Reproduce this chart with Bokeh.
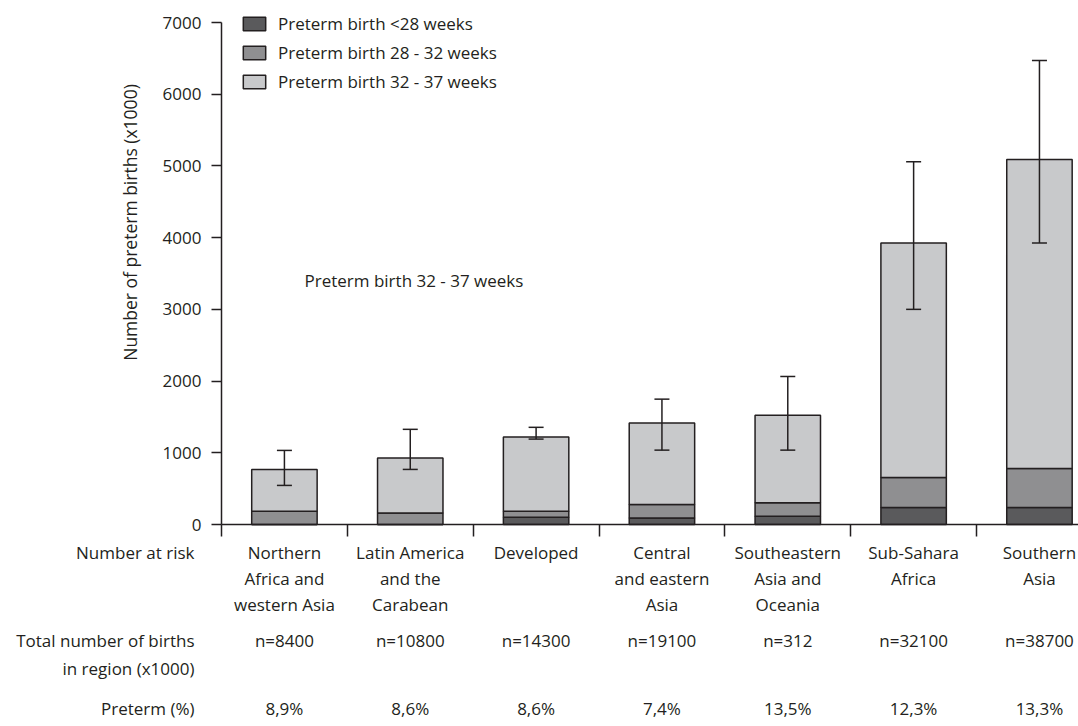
import math
from bokeh.plotting import figure
from bokeh.models import ColumnDataSource, Range1d, FixedTicker, Whisker, TeeHead
from bokeh.core.properties import value
from bokeh.embed import file_html
from bokeh.resources import INLINE

# ---------------- data ----------------
regions = ["Northern\nAfrica and\nwestern Asia", "Latin America\nand the\nCarabean", "Developed",
           "Central\nand eastern\nAsia", "Southeastern\nAsia and\nOceania", "Sub-Sahara\nAfrica",
           "Southern\nAsia"]
pt_lt28 = [0, 0, 100, 92, 116, 237, 237]
pt_28_32 = [186, 162, 86, 187, 186, 419, 545]
pt_32_37 = [582, 764, 1033, 1138, 1223, 3268, 4306]
err_low = [545, 768, 1191, 1037, 1037, 3000, 3924]
err_high = [1033, 1327, 1355, 1748, 2064, 5060, 6470]
total_births = ["n=8400", "n=10800", "n=14300", "n=19100", "n=312", "n=32100", "n=38700"]
preterm_pct = ["8,9%", "8,6%", "8,6%", "7,4%", "13,5%", "12,3%", "13,3%"]
series_names = ["Preterm birth <28 weeks", "Preterm birth 28 - 32 weeks", "Preterm birth 32 - 37 weeks"]
row_labels = ["Number at risk", "Total number of births", "in region (x1000)", "Preterm (%)"]
y_ticks = [0, 1000, 2000, 3000, 4000, 5000, 6000, 7000]

# ---------------- layout (screen geometry) ----------------
FONT = "Open Sans"
FS = "17px"
INK = "#231f20"
colors = ["#5a5a5c", "#8f8f91", "#c8c9cb"]
W, H = 1078, 726
AXIS_X = 221          # screen x of the y axis (category boundary -0.5)
Y0_PX, Y7000_PX = 524, 22
px_y = (Y0_PX - Y7000_PX) / 7000.0
y_end = 7000 + Y7000_PX / px_y
y_start = -(H - Y0_PX) / px_y
u = 125.84            # px per category
x_start = -0.5 - AXIS_X / u
x_end = x_start + W / u

def dx(px):   # screen x -> data x
    return x_start + px / u

def dy(py):   # screen y -> data y
    return (Y0_PX - py) / px_y

n = len(regions)
xs = list(range(n))
src = ColumnDataSource(dict(x=xs, lt28=pt_lt28, mid=pt_28_32, late=pt_32_37,
                            lower=err_low, upper=err_high))

p = figure(width=W, height=H, output_backend="svg", toolbar_location=None,
           x_range=Range1d(x_start, x_end), y_range=Range1d(y_start, y_end),
           min_border=0, tools="")
p.outline_line_color = None
p.grid.visible = False

p.vbar_stack(["lt28", "mid", "late"], x="x", width=0.52, color=colors,
             line_color=INK, line_width=1.5, source=src, legend_label=series_names)

p.add_layout(Whisker(base="x", lower="lower", upper="upper", source=src,
                     line_color=INK, line_width=1.5, level="annotation",
                     upper_head=TeeHead(size=15, line_color=INK, line_width=1.5),
                     lower_head=TeeHead(size=15, line_color=INK, line_width=1.5)))

# x axis at value 0 with boundary ticks pointing down, no labels
xa = p.xaxis[0]
xa.fixed_location = 0
xa.bounds = (-0.5, x_end)
xa.ticker = FixedTicker(ticks=[i - 0.5 for i in range(n)])
xa.major_label_text_color = None
xa.major_label_text_font_size = "1px"
xa.major_tick_in = 0
xa.major_tick_out = 12
xa.minor_tick_line_color = None
xa.axis_line_color = INK
xa.axis_line_width = 1.5
xa.major_tick_line_color = INK
xa.major_tick_line_width = 1.5

# y axis at the first category boundary
ya = p.yaxis[0]
ya.fixed_location = -0.5
ya.bounds = (0, 7000)
ya.ticker = FixedTicker(ticks=y_ticks)
ya.major_tick_out = 10
ya.major_tick_in = 0
ya.minor_tick_line_color = None
ya.axis_line_color = INK
ya.axis_line_width = 1.5
ya.major_tick_line_color = INK
ya.major_tick_line_width = 1.5
ya.major_label_text_font = FONT
ya.major_label_text_font_size = FS
ya.major_label_text_color = INK
ya.major_label_standoff = 10

txt_kw = dict(text_baseline="middle", text_font=value(FONT), text_font_size=FS, text_color=INK)

# y axis title
p.text(x=[dx(129)], y=[dy(222)], text=["Number of preterm births (x1000)"], angle=math.pi / 2,
       text_align="center", text_baseline="middle", text_font=value(FONT),
       text_font_size="17.5px", text_color=INK)

# in-plot annotation
p.text(x=[dx(304)], y=[dy(280)], text=["Preterm birth 32 - 37 weeks"], text_align="left", **txt_kw)

# legend
lg = p.legend[0]
lg.location = (240, H - 93)
lg.padding = 0
lg.margin = 0
lg.spacing = 6
lg.glyph_width = 28
lg.glyph_height = 17
lg.label_height = 20
lg.label_standoff = 10
lg.border_line_color = None
lg.background_fill_alpha = 0
lg.label_text_font = FONT
lg.label_text_font_size = FS
lg.label_text_color = INK

# table beneath the axis
split = [r.split("\n") for r in regions]
for k, py in enumerate([552, 578, 604]):
    tx, tt = [], []
    for i, parts in enumerate(split):
        if k < len(parts):
            tx.append(i)
            tt.append(parts[k])
    p.text(x=tx, y=[dy(py)] * len(tx), text=tt, text_align="center", **txt_kw)

p.text(x=xs, y=[dy(640)] * n, text=total_births, text_align="center", **txt_kw)
p.text(x=xs, y=[dy(708)] * n, text=preterm_pct, text_align="center", **txt_kw)

p.text(x=[dx(194)] * 4, y=[dy(552), dy(640), dy(668), dy(708)], text=row_labels,
       text_align="right", **txt_kw)

open("out.html", "w").write(file_html(p, INLINE))
